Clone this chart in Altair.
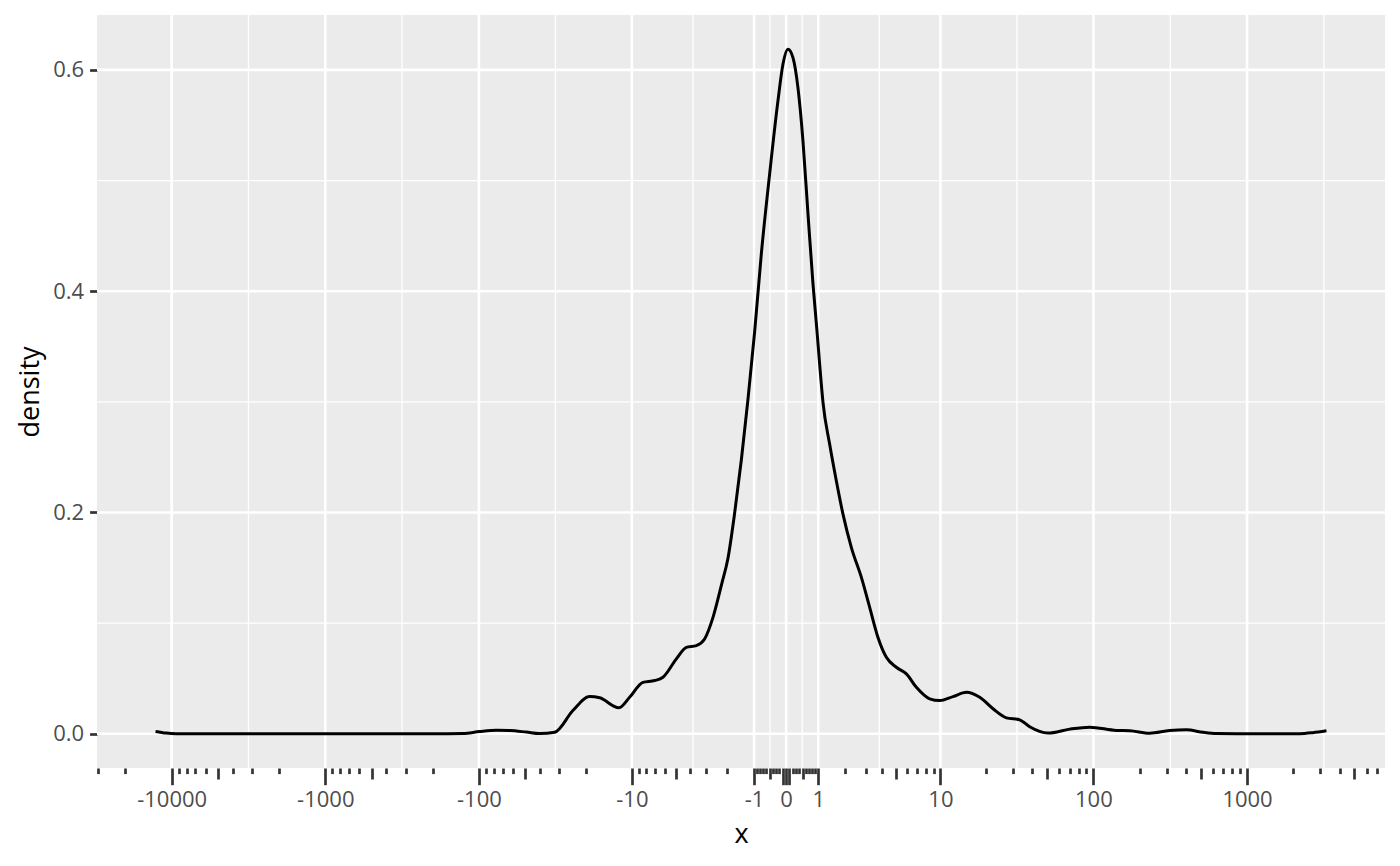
import math
import json
import altair as alt
import pandas as pd

# ---- density curve (original x units, density) ----
curve_x = [-12730, -10840, -9330, -7000, -3000, -1000, -400, -200, -127, -99, -77, -63,
           -49, -40.2, -32.1, -24.4, -19.0, -16.3, -12.2, -10.35, -8.44, -7.04, -6.18,
           -4.99, -4.24, -3.58, -3.10, -2.66, -2.24, -1.98, -1.702, -1.446, -1.210,
           -0.980, -0.761, -0.500, -0.247, -0.096, 0.054, 0.204, 0.355, 0.509, 0.666,
           0.826, 0.957, 1.047, 1.160, 1.399, 1.651, 1.917, 2.282, 2.764, 3.211, 3.708,
           4.268, 5.025, 5.897, 6.900, 8.478, 9.884, 12.11, 14.84, 18.14, 22.16, 27.11,
           33.10, 38.45, 50.6, 70.1, 94.6, 141.1, 172.3, 232.6, 313.8, 403.3, 516.9,
           632.1, 1000, 2203, 2677, 3288]
curve_density = [0.0021, 0.0006, 0.0001, 0.0, 0.0, 0.0, 0.0, 0.0, 0.0003, 0.0020, 0.0031,
                 0.0029, 0.0015, 0.0002, 0.0014, 0.0210, 0.0336, 0.0325, 0.0235, 0.0330,
                 0.0465, 0.0481, 0.0511, 0.0677, 0.0781, 0.0797, 0.0857, 0.1052, 0.136,
                 0.158, 0.1995, 0.2477, 0.3018, 0.3634, 0.434, 0.506, 0.572, 0.6051,
                 0.6187, 0.6111, 0.5840, 0.5359, 0.4698, 0.4067, 0.3642, 0.3338, 0.2998,
                 0.2616, 0.2285, 0.1985, 0.1683, 0.1413, 0.1142, 0.0871, 0.0691, 0.0601,
                 0.0541, 0.0420, 0.0316, 0.0300, 0.0336, 0.0375, 0.0330, 0.0226, 0.0144,
                 0.0126, 0.0063, 0.0006, 0.0042, 0.0060, 0.0030, 0.0027, 0.0005, 0.0030,
                 0.0036, 0.0013, 0.0002, 0.0, 0.0001, 0.0010, 0.0027]

# axis breaks / labels
major_breaks = [-10000, -1000, -100, -10, -1, 0, 1, 10, 100, 1000]
major_labels = ["-10000", "-1000", "-100", "-10", "-1", "0", "1", "10", "100", "1000"]
y_breaks = [0.0, 0.2, 0.4, 0.6]
long_ticks = [-10000, -1000, -100, -10, -1, -0.1, 0, 0.1, 1, 10, 100, 1000, 10000]
mid_ticks = [-5000, -500, -50, -5, -0.5, 0.5, 5, 50, 500, 5000]
short_mult = [2, 3, 4, 6, 7, 8, 9]


def pseudo_log(v):
    # ggplot2 pseudo_log_trans(sigma = 1, base = 10)
    return math.asinh(v / 2.0) / math.log(10)


t_data = [pseudo_log(v) for v in curve_x]
lo, hi = min(t_data), max(t_data)
pad = 0.05 * (hi - lo)
x_dom = [lo - pad, hi + pad]
d_lo, d_hi = min(curve_density), max(curve_density)
y_pad = 0.05 * (d_hi - d_lo)
y_dom = [d_lo - y_pad, d_hi + y_pad]


def inside(t):
    return x_dom[0] <= t <= x_dom[1]


short_ticks = []
for e in range(-1, 5):
    for k in short_mult:
        v = k * 10 ** e
        short_ticks += [v, -v]

long_t = [pseudo_log(v) for v in long_ticks if inside(pseudo_log(v))]
mid_t = [pseudo_log(v) for v in mid_ticks if inside(pseudo_log(v))]
short_t = [pseudo_log(v) for v in short_ticks if inside(pseudo_log(v))]
all_t = sorted(set(long_t + mid_t + short_t))
major_t = [pseudo_log(v) for v in major_breaks]


def minor_of(b, dom):
    b = list(b)
    bd = b[1] - b[0]
    if dom[0] < b[0]:
        b = [b[0] - bd] + b
    if dom[1] > b[-1]:
        b = b + [b[-1] + bd]
    mids = [(b[i] + b[i + 1]) / 2 for i in range(len(b) - 1)]
    return [m for m in mids if dom[0] <= m <= dom[1]]


minor_t = minor_of(major_t, x_dom)
y_minor = minor_of(y_breaks, y_dom)

tick_expr = (f"indexof({json.dumps(long_t)}, datum.value) >= 0 ? 16.7 : "
             f"(indexof({json.dumps(mid_t)}, datum.value) >= 0 ? 11 : 5.6)")
label_expr = (f"indexof({json.dumps(major_t)}, datum.value) >= 0 ? "
              f"{json.dumps(major_labels)}[indexof({json.dumps(major_t)}, datum.value)] : ''")

FONT = "Open Sans"

x_scale = alt.Scale(domain=x_dom, nice=False, zero=False)
y_scale = alt.Scale(domain=y_dom, nice=False, zero=False)

x_axis = alt.Axis(
    values=all_t, tickSize={"expr": tick_expr}, tickWidth=2.7, tickColor="#333333",
    domain=False, grid=False, labelExpr=label_expr, labelFont=FONT, labelFontSize=22,
    labelColor="#4D4D4D", labelPadding=5, labelOverlap=False, labelFlush=False,
    title="x", titleFont=FONT, titleFontSize=27, titleFontWeight="normal",
    titleColor="black", titleBaseline="alphabetic", titleY=74.4,
)
y_axis = alt.Axis(
    values=y_breaks, format=".1f", tickSize=7.4, tickWidth=2.7, tickColor="#333333",
    domain=False, grid=False, labelFont=FONT, labelFontSize=22, labelColor="#4D4D4D",
    labelPadding=6, labelFlush=False, title="density", titleFont=FONT, titleFontSize=27,
    titleFontWeight="normal", titleColor="black", titleBaseline="alphabetic",
    titleX=-58.5, titleAngle=270,
)

curve_df = pd.DataFrame({"x": curve_x, "density": curve_density})
xmaj_df = pd.DataFrame({"t": major_t})
xmin_df = pd.DataFrame({"t": minor_t})
ymaj_df = pd.DataFrame({"density": y_breaks})
ymin_df = pd.DataFrame({"density": y_minor})

xgrid_minor = alt.Chart(xmin_df).mark_rule(color="white", strokeWidth=1.3).encode(
    x=alt.X("t:Q", scale=x_scale, axis=x_axis))
ygrid_minor = alt.Chart(ymin_df).mark_rule(color="white", strokeWidth=1.3).encode(
    y=alt.Y("density:Q", scale=y_scale, axis=y_axis))
xgrid_major = alt.Chart(xmaj_df).mark_rule(color="white", strokeWidth=2.6).encode(
    x=alt.X("t:Q", scale=x_scale, axis=x_axis))
ygrid_major = alt.Chart(ymaj_df).mark_rule(color="white", strokeWidth=2.6).encode(
    y=alt.Y("density:Q", scale=y_scale, axis=y_axis))

line = alt.Chart(curve_df).transform_calculate(
    t="(datum.x < 0 ? -1 : 1) * log(abs(datum.x) / 2 + sqrt(datum.x * datum.x / 4 + 1)) / LN10"
).mark_line(color="black", strokeWidth=3.0, interpolate="monotone").encode(
    x=alt.X("t:Q", scale=x_scale, axis=x_axis),
    y=alt.Y("density:Q", scale=y_scale, axis=y_axis),
)

chart = alt.layer(xgrid_minor, ygrid_minor, xgrid_major, ygrid_major, line).properties(
    width=1288, height=753,
    autosize=alt.AutoSizeParams(type="none"),
    padding={"left": 89, "top": 7, "right": 7, "bottom": 90},
    background="white",
).configure_view(fill="#EBEBEB", strokeWidth=0)

chart.save("out.html", embed_options={"renderer": "svg", "actions": False})
